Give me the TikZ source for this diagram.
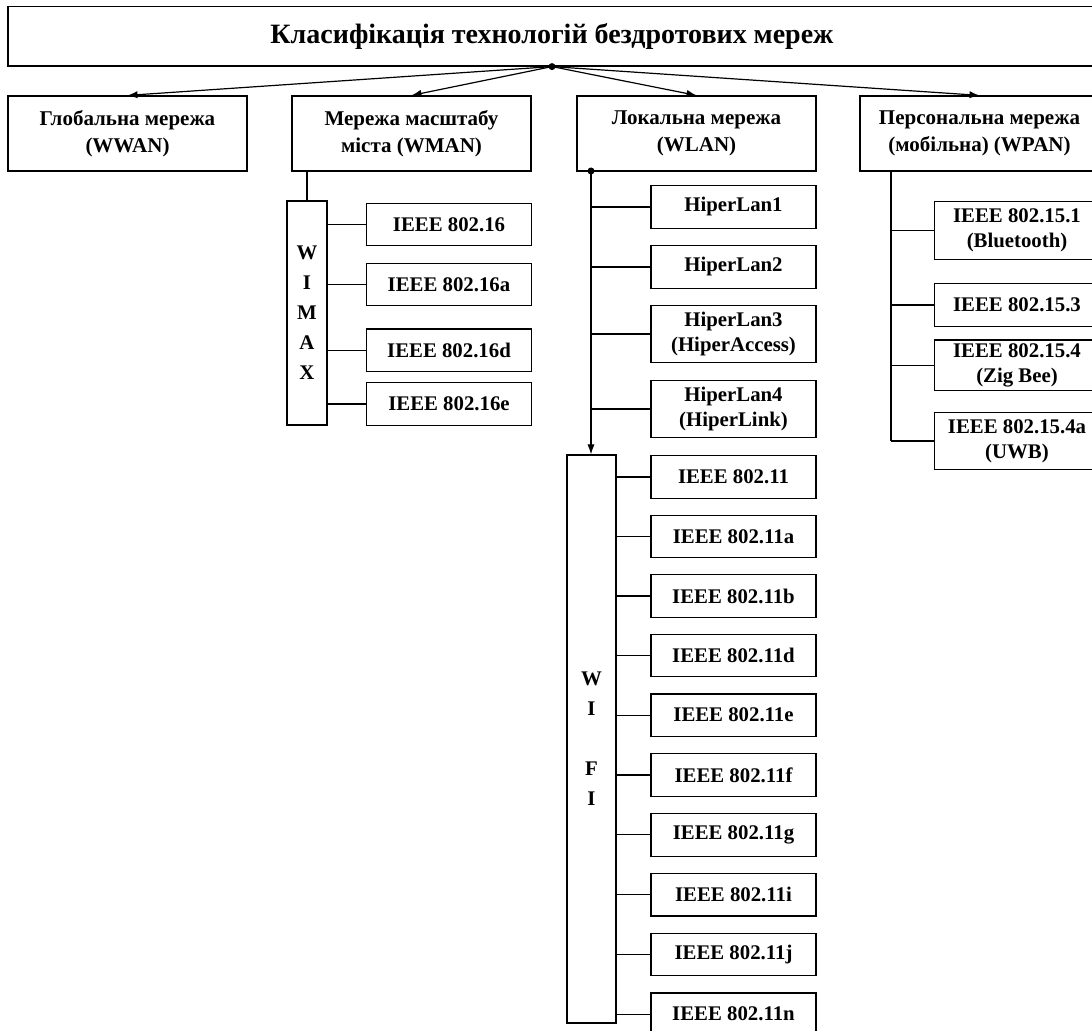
\documentclass[tikz,border=0pt]{standalone}
\usepackage{fontspec}
\setmainfont{Liberation Serif}
\usetikzlibrary{arrows.meta}
\tikzset{every node/.append style={font=\bfseries\fontsize{10.4}{12.5}\selectfont}}
\tikzset{
  netbox/.style={draw, line width=0.6pt, inner sep=0pt, align=center},
  kind/.style={netbox, minimum width=119.5pt, minimum height=37.5pt,
    font=\bfseries\fontsize{10.5}{13.5}\selectfont},
  std/.style={netbox, minimum width=82.5pt, minimum height=21.3pt},
  vbar/.style={netbox, font=\bfseries\fontsize{10.4}{15}\selectfont},
  link/.style={line width=0.6pt},
  feed/.style={line width=0.6pt, -{Latex[length=5pt,width=3.6pt]}}
}

\begin{document}
\begin{tikzpicture}[x=0.5pt, y=-0.5pt]
    \useasboundingbox (0,0) rectangle (1092,1031);

    \node[netbox, minimum width=544pt, minimum height=29.7pt,
      font=\bfseries\fontsize{14}{16}\selectfont] (root) at (552,36.3)
      {Класифікація технологій бездротових мереж};

    \node[kind] (wwan) at (127.5,133.5) {Глобальна мережа\\(WWAN)};
    \node[kind] (wman) at (411.5,133.5) {Мережа масштабу\\міста (WMAN)};
    \node[kind] (wlan) at (696.5,133.5) {Локальна мережа\\(WLAN)};
    \node[kind] (wpan) at (979.5,133.5) {Персональна мережа\\(мобільна) (WPAN)};

    \fill (root.south) circle (1.75pt);
    \draw[link]
      (root.south) edge[feed] (wwan.north)
      (root.south) edge[feed] (wman.north)
      (root.south) edge[feed] (wlan.north)
      (root.south) edge[feed] (wpan.north);

    % WMAN
    \node[vbar, minimum width=20pt, minimum height=112pt] (wimax) at (307,313) {W\\I\\M\\A\\X};
    \node[std] (w16) at (449,224.5) {IEEE 802.16};
    \node[std] (w16a) at (449,284.5) {IEEE 802.16a};
    \node[std] (w16d) at (449,350.3) {IEEE 802.16d};
    \node[std] (w16e) at (449,404) {IEEE 802.16e};

    \draw[link]
      (wman.south -| wimax.north) edge (wimax.north)
      (wimax.east |- w16) edge (w16.west)
      (wimax.east |- w16a) edge (w16a.west)
      (wimax.east |- w16d) edge (w16d.west)
      (wimax.east |- w16e) edge (w16e.west);

    % WLAN
    \coordinate (lanbus) at (591,171);
    \node[std] (hl1) at (733.5,207) {HiperLan1};
    \node[std] (hl2) at (733.5,267) {HiperLan2};
    \node[std, minimum height=28.5pt] (hl3) at (733.5,334) {HiperLan3\\(HiperAccess)};
    \node[std, minimum height=28.8pt] (hl4) at (733.5,409) {HiperLan4\\(HiperLink)};
    \node[vbar, minimum width=24.5pt, minimum height=284pt] (wifi) at (591.5,739) {W\\I\\[15pt]F\\I};
    \node[std] (w11) at (733.5,477) {IEEE 802.11};
    \node[std] (w11a) at (733.5,536.5) {IEEE 802.11a};
    \node[std] (w11b) at (733.5,596) {IEEE 802.11b};
    \node[std] (w11d) at (733.5,655.5) {IEEE 802.11d};
    \node[std] (w11e) at (733.5,715.2) {IEEE 802.11e};
    \node[std] (w11f) at (733.5,775) {IEEE 802.11f};
    \node[std] (w11g) at (733.5,834.8) {IEEE 802.11g};
    \node[std] (w11i) at (733.5,894.6) {IEEE 802.11i};
    \node[std] (w11j) at (733.5,954.4) {IEEE 802.11j};
    \node[std] (w11n) at (733.5,1014.2) {IEEE 802.11n};

    \fill (lanbus) circle (1.75pt);
    \draw[feed] (lanbus) -- (lanbus |- wifi.north);
    \draw[link]
      (lanbus |- hl1) edge (hl1.west)
      (lanbus |- hl2) edge (hl2.west)
      (lanbus |- hl3) edge (hl3.west)
      (lanbus |- hl4) edge (hl4.west)
      (wifi.east |- w11) edge (w11.west)
      (wifi.east |- w11a) edge (w11a.west)
      (wifi.east |- w11b) edge (w11b.west)
      (wifi.east |- w11d) edge (w11d.west)
      (wifi.east |- w11e) edge (w11e.west)
      (wifi.east |- w11f) edge (w11f.west)
      (wifi.east |- w11g) edge (w11g.west)
      (wifi.east |- w11i) edge (w11i.west)
      (wifi.east |- w11j) edge (w11j.west)
      (wifi.east |- w11n) edge (w11n.west);

    % WPAN
    \coordinate (panbus) at (891,171);
    \node[std, minimum height=28.8pt] (p1) at (1017,230.5) {IEEE 802.15.1\\(Bluetooth)};
    \node[std] (p3) at (1017,305) {IEEE 802.15.3};
    \node[std, minimum height=25.3pt] (p4) at (1017,365.4) {IEEE 802.15.4\\(Zig Bee)};
    \node[std, minimum height=28.8pt] (p4a) at (1017,441) {IEEE 802.15.4a\\(UWB)};

    \draw[link]
      (panbus) edge (panbus |- p4a)
      (panbus |- p1) edge (p1.west)
      (panbus |- p3) edge (p3.west)
      (panbus |- p4) edge (p4.west)
      (panbus |- p4a) edge (p4a.west);
\end{tikzpicture}
\end{document}
